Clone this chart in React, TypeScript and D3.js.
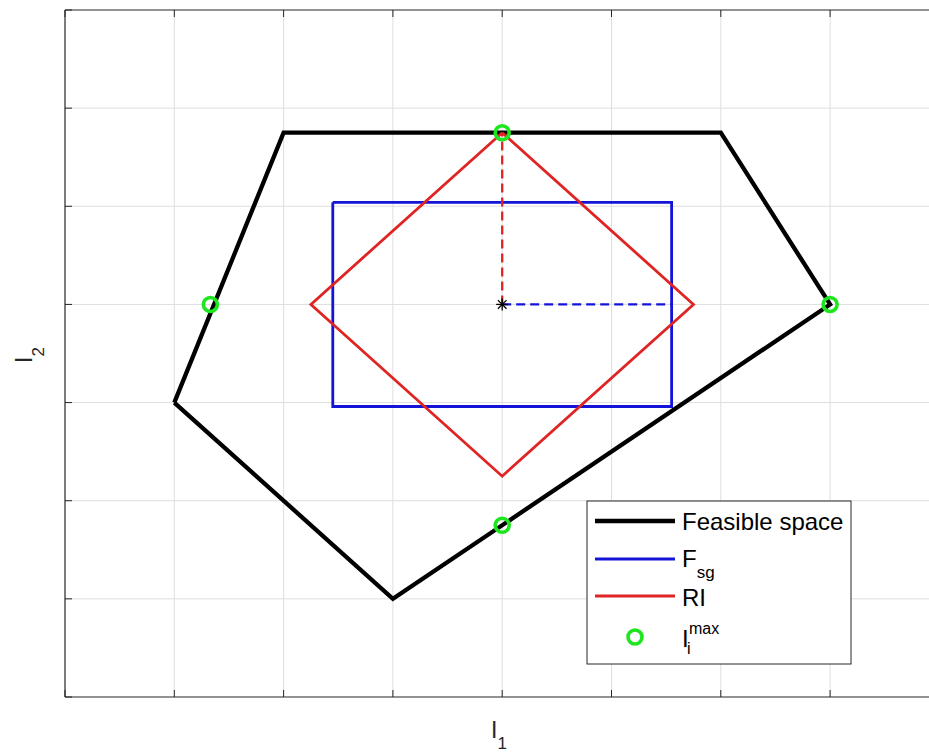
import React from "react";
import * as d3 from "d3";

// ---- data (axis units) ----
const xTicks = [0, 1, 2, 3, 4, 5, 6, 7, 8];
const yTicks = [0, 1, 2, 3, 4, 5, 6, 7];
const feasibleX = [1, 2, 6, 7, 3, 1];
const feasibleY = [3, 5.75, 5.75, 4, 1, 3];
const fsgX = [2.45, 5.55, 5.55, 2.45, 2.45];
const fsgY = [5.04, 5.04, 2.96, 2.96, 5.04];
const riX = [4, 5.75, 4, 2.25, 4];
const riY = [5.75, 4, 2.25, 4, 5.75];
const centerX = [4];
const centerY = [4];
const riDashX = [4, 4];
const riDashY = [4, 5.75];
const fsgDashX = [4, 5.55];
const fsgDashY = [4, 4];
const imaxX = [4, 1.33, 7, 4];
const imaxY = [5.75, 4, 4, 1.75];
const legendLabels = ["Feasible space", "F", "RI", "I"];

const W = 929;
const H = 753;
const FONT = "'Liberation Sans', Arial, Helvetica, sans-serif";
const BLACK = "#000000";
const BLUE = "#1414d8";
const RED = "#e02424";
const GREEN = "#1ee61e";
const AXIS = "#262626";
const GRID = "#dedede";

export default function App() {
  const x = d3.scaleLinear().domain([0, 8]).range([65, 65 + 8 * 109.3]);
  const y = d3.scaleLinear().domain([0, 7]).range([697, 10]);
  const line = d3
    .line<[number, number]>()
    .x((d) => x(d[0]))
    .y((d) => y(d[1]));
  const pts = (xs: number[], ys: number[]) =>
    xs.map((v, i) => [v, ys[i]] as [number, number]);

  const left = x(0);
  const right = x(8);
  const top = y(7);
  const bottom = y(0);

  const cx = x(centerX[0]);
  const cy = y(centerY[0]);
  const s = 6;

  return (
    <div style={{ position: "fixed", left: 0, top: 0 }}>
      <svg width={W} height={H} style={{ display: "block", background: "#fff" }} fontFamily={FONT}>
        <rect x={0} y={0} width={W} height={H} fill="#fff" />
        {/* grid */}
        {xTicks.slice(1, 8).map((t) => (
          <line key={"gx" + t} x1={x(t)} x2={x(t)} y1={top} y2={bottom} stroke={GRID} strokeWidth={1} />
        ))}
        {yTicks.slice(1, 7).map((t) => (
          <line key={"gy" + t} x1={left} x2={right} y1={y(t)} y2={y(t)} stroke={GRID} strokeWidth={1} />
        ))}
        {/* ticks */}
        {xTicks.map((t) => (
          <g key={"tx" + t}>
            <line x1={x(t)} x2={x(t)} y1={bottom} y2={bottom - 7} stroke={AXIS} strokeWidth={1} />
            <line x1={x(t)} x2={x(t)} y1={top} y2={top + 7} stroke={AXIS} strokeWidth={1} />
          </g>
        ))}
        {yTicks.map((t) => (
          <line key={"ty" + t} x1={left} x2={left + 7} y1={y(t)} y2={y(t)} stroke={AXIS} strokeWidth={1} />
        ))}
        {/* axes box */}
        <line x1={left} x2={right} y1={top} y2={top} stroke={AXIS} strokeWidth={1.2} />
        <line x1={left} x2={right} y1={bottom} y2={bottom} stroke={AXIS} strokeWidth={1.2} />
        <line x1={left} x2={left} y1={top} y2={bottom} stroke={AXIS} strokeWidth={1.2} />

        {/* feasible space */}
        <path d={line(pts(feasibleX, feasibleY)) || ""} fill="none" stroke={BLACK} strokeWidth={4.3} strokeLinejoin="miter" />
        {/* Fsg */}
        <path d={line(pts(fsgX, fsgY)) || ""} fill="none" stroke={BLUE} strokeWidth={2.8} />
        {/* RI */}
        <path d={line(pts(riX, riY)) || ""} fill="none" stroke={RED} strokeWidth={2.8} />
        {/* dashed */}
        <path d={line(pts(riDashX, riDashY)) || ""} fill="none" stroke={RED} strokeWidth={2.3} strokeDasharray="9,5" />
        <path d={line(pts(fsgDashX, fsgDashY)) || ""} fill="none" stroke={BLUE} strokeWidth={2.3} strokeDasharray="9,5" />
        {/* star */}
        <g stroke={BLACK} strokeWidth={1.3}>
          <line x1={cx - s} x2={cx + s} y1={cy} y2={cy} />
          <line x1={cx} x2={cx} y1={cy - s} y2={cy + s} />
          <line x1={cx - s * 0.72} x2={cx + s * 0.72} y1={cy - s * 0.72} y2={cy + s * 0.72} />
          <line x1={cx - s * 0.72} x2={cx + s * 0.72} y1={cy + s * 0.72} y2={cy - s * 0.72} />
        </g>
        {/* Imax circles */}
        {imaxX.map((v, i) => (
          <circle key={"c" + i} cx={x(v)} cy={y(imaxY[i])} r={7} fill="none" stroke={GREEN} strokeWidth={3.6} />
        ))}

        {/* legend */}
        <rect x={587} y={501} width={264} height={163} fill="#fff" stroke={AXIS} strokeWidth={1} />
        <line x1={595} x2={675} y1={521} y2={521} stroke={BLACK} strokeWidth={4.3} />
        <line x1={595} x2={675} y1={559} y2={559} stroke={BLUE} strokeWidth={2.8} />
        <line x1={595} x2={675} y1={596} y2={596} stroke={RED} strokeWidth={2.8} />
        <circle cx={635} cy={637} r={7} fill="none" stroke={GREEN} strokeWidth={3.6} />
        <text x={682} y={530} fontSize={24} fill="#000">{legendLabels[0]}</text>
        <text x={682} y={567} fontSize={24} fill="#000">
          {legendLabels[1]}
          <tspan dy={11} fontSize={17}>sg</tspan>
        </text>
        <text x={682} y={606} fontSize={24} fill="#000">{legendLabels[2]}</text>
        <text x={682} y={647} fontSize={24} fill="#000">
          {legendLabels[3]}
          <tspan x={689} y={634} fontSize={16}>max</tspan>
          <tspan x={687} y={654} fontSize={16}>i</tspan>
        </text>

        {/* axis labels */}
        <text x={491} y={738} fontSize={23} fill="#262626">
          I<tspan dy={11} fontSize={17}>1</tspan>
        </text>
        <text transform="translate(32,363) rotate(-90)" fontSize={23} fill="#262626">
          I<tspan dy={12} fontSize={17}>2</tspan>
        </text>
      </svg>
    </div>
  );
}
